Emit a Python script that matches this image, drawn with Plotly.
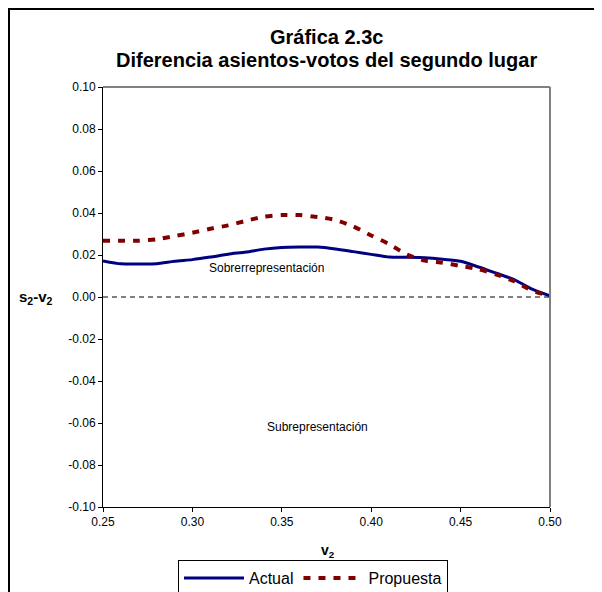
import plotly.graph_objects as go

v2 = [0.25, 0.26, 0.27, 0.28, 0.29, 0.30, 0.31, 0.32, 0.33, 0.34, 0.35, 0.36, 0.37,
      0.38, 0.39, 0.40, 0.41, 0.42, 0.43, 0.44, 0.45, 0.46, 0.47, 0.48, 0.49, 0.50]
actual = [0.0172, 0.0158, 0.0157, 0.0158, 0.0170, 0.0178, 0.0190, 0.0204, 0.0214, 0.0228,
          0.0236, 0.0238, 0.0238, 0.0229, 0.0216, 0.0203, 0.0190, 0.0189, 0.0187, 0.0180,
          0.0170, 0.0143, 0.0113, 0.0083, 0.0037, 0.0005]
propuesta = [0.0268, 0.0268, 0.0268, 0.0275, 0.0290, 0.0306, 0.0325, 0.0341, 0.0363, 0.0382,
             0.0390, 0.0390, 0.0381, 0.0367, 0.0336, 0.0293, 0.0252, 0.0202, 0.0173, 0.0163,
             0.0148, 0.0133, 0.0107, 0.0075, 0.0030, 0.0005]
x_ticks = [0.25, 0.30, 0.35, 0.40, 0.45, 0.50]
y_ticks = [-0.10, -0.08, -0.06, -0.04, -0.02, 0.00, 0.02, 0.04, 0.06, 0.08, 0.10]
x_ticktext = ["0.25", "0.30", "0.35", "0.40", "0.45", "0.50"]
y_ticktext = ["-0.10", "-0.08", "-0.06", "-0.04", "-0.02", "0.00", "0.02", "0.04", "0.06", "0.08", "0.10"]

FONT = "Liberation Sans, Arial, sans-serif"

# figure pixel geometry (page offset of 8 px by the body margin)
W, H = 594, 600
L, T, PW, PH = 95, 79, 447, 420


def px(xf):
    return (xf - L) / PW


def py(yf):
    return 1 - (yf - T) / PH


fig = go.Figure()
fig.add_trace(go.Scatter(x=v2, y=actual, mode="lines", name="Actual",
                         line=dict(color="#000080", width=3, shape="spline", smoothing=0.6)))
fig.add_trace(go.Scatter(x=v2, y=propuesta, mode="lines", name="Propuesta",
                         line=dict(color="#800000", width=4, dash="7px,8px", shape="spline", smoothing=0.6)))

# zero reference line
fig.add_shape(type="line", xref="x", yref="y", x0=0.25, x1=0.50, y0=0, y1=0,
              line=dict(color="black", width=1, dash="5px,4px"), layer="below")
# gray top/right plot border
fig.add_shape(type="line", xref="paper", yref="paper", x0=0, x1=1, y0=1, y1=1,
              line=dict(color="#808080", width=2))
fig.add_shape(type="line", xref="paper", yref="paper", x0=1, x1=1, y0=0, y1=1,
              line=dict(color="#808080", width=2))
# outer chart border
fig.add_shape(type="rect", xref="paper", yref="paper",
              x0=px(1), x1=px(589), y0=py(640), y1=py(1),
              line=dict(color="black", width=2), fillcolor="rgba(0,0,0,0)")

fig.add_annotation(x=0.3414, y=0.0137, text="Sobrerrepresentación", showarrow=False,
                   xanchor="center", yanchor="middle",
                   font=dict(family=FONT, size=12, color="black"))
fig.add_annotation(x=0.3697, y=-0.0618, text="Subrepresentación", showarrow=False,
                   xanchor="center", yanchor="middle",
                   font=dict(family=FONT, size=12, color="black"))
fig.add_annotation(xref="paper", yref="y", x=px(28), y=0,
                   text="<b>s<sub>2</sub>-v<sub>2</sub></b>", showarrow=False,
                   xanchor="center", yanchor="middle",
                   font=dict(family=FONT, size=15, color="black"))
fig.add_annotation(xref="paper", yref="paper", x=0.5, y=py(29),
                   text="<b>Gráfica 2.3c</b>", showarrow=False,
                   xanchor="center", yanchor="middle",
                   font=dict(family=FONT, size=20, color="black"))
fig.add_annotation(xref="paper", yref="paper", x=0.5, y=py(52),
                   text="<b>Diferencia asientos-votos del segundo lugar</b>", showarrow=False,
                   xanchor="center", yanchor="middle",
                   font=dict(family=FONT, size=20, color="black"))
fig.add_annotation(xref="paper", yref="paper", x=px(320), y=py(543),
                   text="<b>v<sub>2</sub></b>", showarrow=False,
                   xanchor="center", yanchor="middle",
                   font=dict(family=FONT, size=14, color="black"))

fig.update_layout(
    width=W, height=H,
    margin=dict(l=L, r=W - L - PW, t=T, b=H - T - PH, autoexpand=False),
    paper_bgcolor="white", plot_bgcolor="white",
    font=dict(family=FONT, size=12, color="black"),
    showlegend=True,
    legend=dict(orientation="h", x=px(170), y=py(552),
                xanchor="left", yanchor="top",
                bordercolor="black", borderwidth=1, bgcolor="white",
                font=dict(family=FONT, size=16, color="black"),
                itemwidth=60, tracegroupgap=0),
)
fig.update_xaxes(range=[0.25, 0.50], tickvals=x_ticks, ticktext=x_ticktext,
                 showgrid=False, zeroline=False, showline=True, linecolor="black", linewidth=1,
                 ticks="outside", ticklen=4, tickcolor="black",
                 tickfont=dict(family=FONT, size=12, color="black"))
fig.update_yaxes(range=[-0.10, 0.10], tickvals=y_ticks, ticktext=y_ticktext,
                 showgrid=False, zeroline=False, showline=True, linecolor="black", linewidth=1,
                 ticks="outside", ticklen=4, tickcolor="black",
                 tickfont=dict(family=FONT, size=12, color="black"))

fig.write_html("out.html")
